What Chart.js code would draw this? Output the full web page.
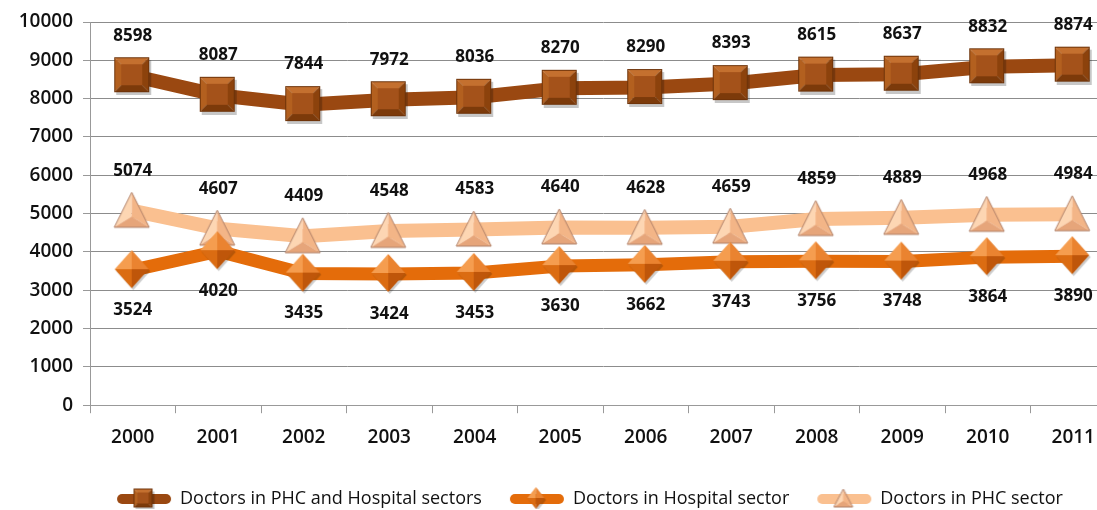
<!DOCTYPE html>
<html>
<head>
<meta charset="utf-8">
<script src="https://cdn.jsdelivr.net/npm/chart.js@4"></script>
<style>
  html, body { margin: 0; padding: 0; background: #fff; overflow: hidden; }
  #wrap { width: 1097px; height: 510px; overflow: hidden; position: relative; }
  #chart { position: absolute; left: 0; top: -8px; }
</style>
</head>
<body>
<div id="wrap"><canvas id="chart" width="1146" height="517"></canvas></div>
<script>
const years = ["2000", "2001", "2002", "2003", "2004", "2005", "2006", "2007", "2008", "2009", "2010", "2011"];
const totalDoctors = [8598, 8087, 7844, 7972, 8036, 8270, 8290, 8393, 8615, 8637, 8832, 8874];
const hospitalDoctors = [3524, 4020, 3435, 3424, 3453, 3630, 3662, 3743, 3756, 3748, 3864, 3890];
const phcDoctors = [5074, 4607, 4409, 4548, 4583, 4640, 4628, 4659, 4859, 4889, 4968, 4984];
const seriesNames = ["Doctors in PHC and Hospital sectors", "Doctors in Hospital sector", "Doctors in PHC sector"];

const FONT = "'Open Sans', 'DejaVu Sans', sans-serif";

// helpers to paint the bevelled markers
function poly(g, pts, color) {
    g.beginPath();
    g.moveTo(pts[0][0], pts[0][1]);
    for (let k = 1; k < pts.length; k++) g.lineTo(pts[k][0], pts[k][1]);
    g.closePath();
    g.fillStyle = color;
    g.fill();
}

function squareMarker(s) {
    const c = document.createElement("canvas");
    c.width = s + 4; c.height = s + 4;
    const g = c.getContext("2d");
    const o = 1, i = Math.round(s * 0.2);
    g.fillStyle = "rgba(0,0,0,0.22)";
    g.fillRect(o + 2, o + 3, s, s);
    const a = o, b = o + s;
    poly(g, [[a, a], [b, a], [b - i, a + i], [a + i, a + i]], "#c4702f");
    poly(g, [[a, a], [a + i, a + i], [a + i, b - i], [a, b]], "#b3601f");
    poly(g, [[b, a], [b, b], [b - i, b - i], [b - i, a + i]], "#8c420c");
    poly(g, [[a, b], [a + i, b - i], [b - i, b - i], [b, b]], "#7c3a0a");
    poly(g, [[a + i, a + i], [b - i, a + i], [b - i, b - i], [a + i, b - i]], "#a4521a");
    g.strokeStyle = "#6e3309";
    g.lineWidth = 1;
    g.strokeRect(a + 0.5, a + 0.5, s - 1, s - 1);
    return c;
}

function diamondMarker(w, h) {
    const c = document.createElement("canvas");
    c.width = w + 4; c.height = h + 4;
    const g = c.getContext("2d");
    const cx = w / 2 + 1, cy = h / 2 + 1;
    const t = [cx, 1], r = [w + 1, cy], bt = [cx, h + 1], l = [1, cy], m = [cx, cy];
    g.save();
    g.translate(1.5, 2);
    poly(g, [t, r, bt, l], "rgba(0,0,0,0.2)");
    g.restore();
    poly(g, [t, m, l], "#f59d4f");
    poly(g, [t, r, m], "#ea8330");
    poly(g, [l, m, bt], "#db6c12");
    poly(g, [m, r, bt], "#bf560a");
    return c;
}

function triangleMarker(w, h) {
    const c = document.createElement("canvas");
    c.width = w + 4; c.height = h + 4;
    const g = c.getContext("2d");
    const top = [w / 2 + 1, 1], bl = [1, h + 1], br = [w + 1, h + 1];
    const m = [w / 2 + 1, h * 0.72];
    poly(g, [top, bl, m], "#fdd6b3");
    poly(g, [top, m, br], "#f3b587");
    poly(g, [bl, br, m], "#e6a57a");
    g.beginPath();
    g.moveTo(top[0], top[1]); g.lineTo(bl[0], bl[1]); g.lineTo(br[0], br[1]); g.closePath();
    g.strokeStyle = "#b08068";
    g.lineWidth = 1;
    g.stroke();
    return c;
}

function legendMarker(color, marker, lw) {
    const c = document.createElement("canvas");
    c.width = 56; c.height = 24;
    const g = c.getContext("2d");
    g.strokeStyle = color;
    g.lineWidth = lw;
    g.lineCap = "round";
    g.beginPath();
    g.moveTo(6, 12); g.lineTo(50, 12);
    g.stroke();
    g.drawImage(marker, 28 - marker.width / 2, 12 - marker.height / 2);
    return c;
}

const colors = ["#9a4811", "#e46c0a", "#fac090"];
const pointImgs = [squareMarker(35), diamondMarker(34, 38), triangleMarker(35, 35)];
const legendImgs = [
    legendMarker(colors[0], squareMarker(19), 10),
    legendMarker(colors[1], diamondMarker(17, 22), 10),
    legendMarker(colors[2], triangleMarker(19, 18), 10)
];
const labelOffsets = [-40, 40, -40];

const valueLabels = {
    id: "valueLabels",
    afterDatasetsDraw(chart) {
        const ctx = chart.ctx;
        ctx.save();
        ctx.font = "bold 17px " + FONT;
        ctx.fillStyle = "#111";
        ctx.textAlign = "center";
        ctx.textBaseline = "middle";
        chart.data.datasets.forEach((ds, d) => {
            chart.getDatasetMeta(d).data.forEach((pt, i) => {
                ctx.fillText(String(ds.data[i]), pt.x, pt.y + labelOffsets[d]);
            });
        });
        ctx.restore();
    }
};

// move legend right so it centres under the visible part
const shiftLegend = {
    id: "shiftLegend",
    afterLayout(chart) {
        chart.legend.left += 16;
        chart.legend.right += 16;
    }
};

const datasets = [totalDoctors, hospitalDoctors, phcDoctors].map((vals, d) => ({
    label: seriesNames[d],
    data: vals,
    borderColor: colors[d],
    backgroundColor: colors[d],
    borderWidth: d === 1 ? 13 : 14,
    tension: 0,
    pointStyle: pointImgs[d],
    pointRadius: 16,
    pointHoverRadius: 16,
    fill: false
}));

new Chart(document.getElementById("chart"), {
    type: "line",
    data: { labels: years, datasets: datasets },
    options: {
        responsive: false,
        animation: false,
        layout: { padding: { top: 0, right: 6, left: 8, bottom: -9 } },
        plugins: {
            tooltip: { enabled: false },
            legend: {
                position: "bottom",
                labels: {
                    usePointStyle: true,
                    pointStyleWidth: 54,
                    padding: 28,
                    color: "#111",
                    font: { family: "'Liberation Sans Narrow', 'Open Sans', sans-serif", size: 18 },
                    generateLabels(chart) {
                        const items = Chart.defaults.plugins.legend.labels.generateLabels(chart);
                        items.forEach((it, k) => { it.pointStyle = legendImgs[k]; });
                        return items;
                    }
                }
            }
        },
        scales: {
            x: {
                offset: true,
                grid: {
                    offset: true,
                    drawOnChartArea: false,
                    drawTicks: true,
                    tickLength: 8,
                    color: "#999"
                },
                border: { color: "#999", width: 1 },
                ticks: {
                    color: "#111",
                    padding: 13,
                    font: { family: FONT, size: 19, weight: "600" }
                }
            },
            y: {
                min: 0,
                max: 10000,
                afterFit(scale) { scale.width = 82; },
                grid: {
                    color: "#8c8c8c",
                    borderDash: [2, 2],
                    tickBorderDash: [],
                    tickColor: "#999",
                    tickLength: 7,
                    drawTicks: true
                },
                border: { color: "#999", width: 1 },
                ticks: {
                    stepSize: 1000,
                    color: "#111",
                    padding: 10,
                    font: { family: FONT, size: 19, weight: "600" },
                    callback: (v) => String(v)
                }
            }
        }
    },
    plugins: [valueLabels, shiftLegend]
});
</script>
</body>
</html>
